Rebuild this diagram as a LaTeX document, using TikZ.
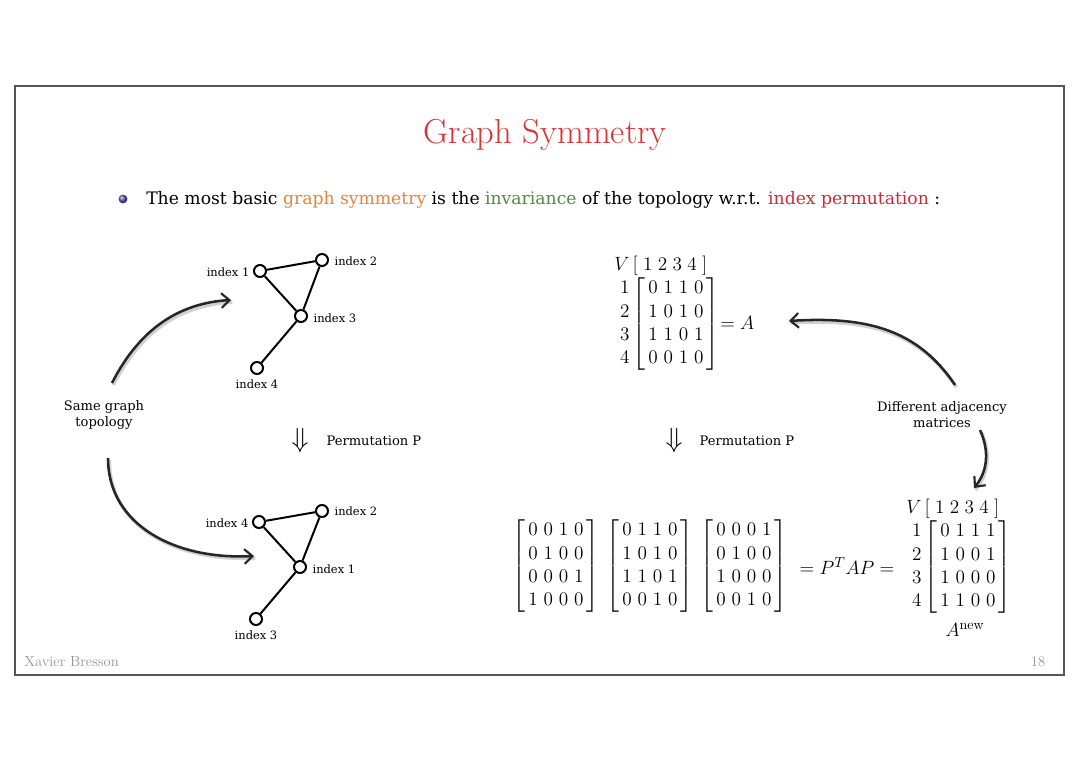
\documentclass[tikz,border=0pt]{standalone}
\usepackage{amsmath}
\usepackage{fontspec}
\newfontfamily\bodyfont{DejaVu Serif}
\usetikzlibrary{arrows.meta,shadings}
\definecolor{titlered}{RGB}{214,52,54}
\definecolor{hlorange}{RGB}{232,132,62}
\definecolor{hlgreen}{RGB}{78,140,62}
\definecolor{hlred}{RGB}{204,44,56}
\definecolor{framegray}{RGB}{85,85,85}
\definecolor{footgray}{RGB}{150,150,150}
\definecolor{ballblue}{RGB}{90,90,190}
\setlength{\arraycolsep}{2.2pt}
\newcommand{\mymat}[1]{\left[\begin{array}{cccc}#1\end{array}\right]}
\newcommand{\labmat}[1]{\begin{array}{@{}r@{\,}l@{}}V & [\;1\;2\;3\;4\;] \\ \begin{array}{@{}c@{}}1\\2\\3\\4\end{array} & \mymat{#1}\end{array}}
\begin{document}
\begin{tikzpicture}[x=0.75pt,y=-0.75pt,
  vtx/.style={circle,draw,line width=1.5pt,minimum size=9pt,inner sep=0pt,fill=white},
  edge/.style={line width=1.5pt},
  lbl/.style={font=\bodyfont\fontsize{8.6}{10}\selectfont,inner sep=1pt},
  note/.style={font=\bodyfont\fontsize{9.8}{12}\selectfont,align=center,inner sep=1pt},
  mat/.style={font=\fontsize{15}{17.5}\selectfont,inner sep=0pt},
  bigarrow/.style={line width=1.9pt,draw=black!85,-{Straight Barb[length=6pt,width=11pt,line width=1.6pt]}},
  shadowarrow/.style={line width=2.6pt,draw=black!18},
  dnarrow/.style={font=\fontsize{20}{22}\selectfont,inner sep=0pt}]
\useasboundingbox (0,0) rectangle (1080,763);
\fill[white] (0,0) rectangle (1080,763);
% frame
\draw[framegray,line width=1.6pt] (15,86) rectangle (1064,675);
% title
\node[titlered,font=\fontsize{26}{30}\selectfont] (title) at (545,135) {Graph Symmetry};
% bullet
\shade[ball color=ballblue] (123,199) circle (3.3pt);
\node[anchor=west,font=\bodyfont\fontsize{12.9}{15}\selectfont,inner sep=0pt] (bullet) at (146,200)
  {The most basic \textcolor{hlorange}{graph symmetry} is the \textcolor{hlgreen}{invariance} of the topology w.r.t. \textcolor{hlred}{index permutation} :};
% top graph
\node[vtx] (a1) at (260,271) {};
\node[vtx] (a2) at (322,260) {};
\node[vtx] (a3) at (301,316) {};
\node[vtx] (a4) at (257,368) {};
\draw[edge] (a1) -- (a2); \draw[edge] (a1) -- (a3); \draw[edge] (a2) -- (a3); \draw[edge] (a3) -- (a4);
\node[lbl,anchor=east] (la1) at (251,272) {index 1};
\node[lbl,anchor=west] (la2) at (333,261) {index 2};
\node[lbl,anchor=west] (la3) at (312,318) {index 3};
\node[lbl] (la4) at (257,384) {index 4};
% bottom graph
\node[vtx] (b4) at (259,522) {};
\node[vtx] (b2) at (322,511) {};
\node[vtx] (b1) at (300,567) {};
\node[vtx] (b3) at (256,619) {};
\draw[edge] (b4) -- (b2); \draw[edge] (b4) -- (b1); \draw[edge] (b2) -- (b1); \draw[edge] (b1) -- (b3);
\node[lbl,anchor=east] (lb4) at (250,523) {index 4};
\node[lbl,anchor=west] (lb2) at (333,511) {index 2};
\node[lbl,anchor=west] (lb1) at (311,569) {index 1};
\node[lbl] (lb3) at (256,635) {index 3};
% left labels and arrows
\node[note] (same) at (104,415) {Same graph\\topology};
\coordinate (s1) at (112,383); \coordinate (e1) at (231,300);
\coordinate (s2) at (108,458); \coordinate (e2) at (254,556);
\draw[shadowarrow] ([xshift=1pt,yshift=-1.5pt]s1) .. controls ([xshift=1pt,yshift=-1.5pt]140,328) and ([xshift=1pt,yshift=-1.5pt]180,303) .. ([xshift=1pt,yshift=-1.5pt]e1);
\draw[bigarrow] (s1) .. controls (140,328) and (180,303) .. (e1);
\draw[shadowarrow] ([xshift=1pt,yshift=-1.5pt]s2) .. controls ([xshift=1pt,yshift=-1.5pt]108,525) and ([xshift=1pt,yshift=-1.5pt]175,560) .. ([xshift=1pt,yshift=-1.5pt]e2);
\draw[bigarrow] (s2) .. controls (108,525) and (175,560) .. (e2);
% permutation arrows
\node[dnarrow] (d1) at (300,441) {$\Downarrow$};
\node[note,anchor=west] (p1) at (325,441) {Permutation P};
\node[dnarrow] (d2) at (674,441) {$\Downarrow$};
\node[note,anchor=west] (p2) at (698,441) {Permutation P};
% top matrix
\node[mat,anchor=north west] (A) at (614,254) {$\labmat{0&1&1&0\\1&0&1&0\\1&1&0&1\\0&0&1&0}$};
\node[mat,anchor=west] (eqA) at (720,323) {$=A$};
% right labels and arrows
\node[note] (diff) at (942,415) {Different adjacency\\matrices};
\coordinate (s3) at (955,385); \coordinate (e3) at (789,321);
\coordinate (s4) at (980,430); \coordinate (e4) at (974,488);
\draw[shadowarrow] ([xshift=1pt,yshift=-1.5pt]s3) .. controls ([xshift=1pt,yshift=-1.5pt]918,330) and ([xshift=1pt,yshift=-1.5pt]868,316) .. ([xshift=1pt,yshift=-1.5pt]e3);
\draw[bigarrow] (s3) .. controls (918,330) and (868,316) .. (e3);
\draw[shadowarrow] ([xshift=1pt,yshift=-1.5pt]s4) .. controls ([xshift=1pt,yshift=-1.5pt]990,452) and ([xshift=1pt,yshift=-1.5pt]987,472) .. ([xshift=1pt,yshift=-1.5pt]e4);
\draw[bigarrow] (s4) .. controls (990,452) and (987,472) .. (e4);
% bottom matrices
\node[mat] (P1) at (556,566) {$\mymat{0&0&1&0\\0&1&0&0\\0&0&0&1\\1&0&0&0}$};
\node[mat] (M2) at (650,566) {$\mymat{0&1&1&0\\1&0&1&0\\1&1&0&1\\0&0&1&0}$};
\node[mat] (P2) at (744,566) {$\mymat{0&0&0&1\\0&1&0&0\\1&0&0&0\\0&0&1&0}$};
\node[mat] (eqP) at (847,566) {$=P^TAP=$};
\node[mat,anchor=north west] (Anew) at (906,497) {$\labmat{0&1&1&1\\1&0&0&1\\1&0&0&0\\1&1&0&0}$};
\node[mat] (Anewl) at (965,630) {$A^{\text{new}}$};
% footer
\node[footgray,anchor=west,font=\fontsize{11}{13}\selectfont,inner sep=0pt] (foot) at (24,662) {Xavier Bresson};
\node[footgray,font=\fontsize{11}{13}\selectfont,inner sep=0pt] (page) at (1038,662) {18};
\end{tikzpicture}
\end{document}
